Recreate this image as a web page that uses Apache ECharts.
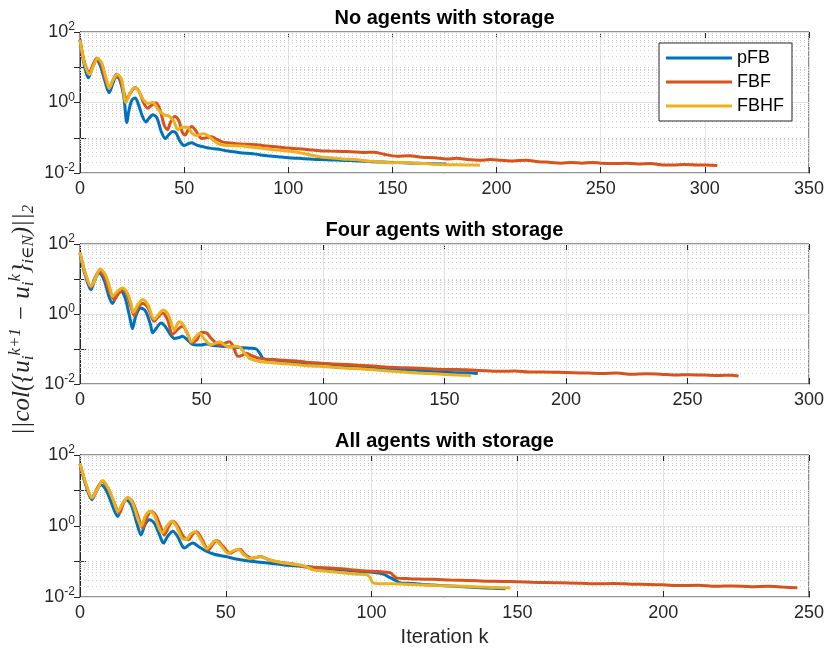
<!DOCTYPE html>
<html>
<head>
<meta charset="utf-8">
<script src="https://cdn.jsdelivr.net/npm/echarts@6/dist/echarts.min.js"></script>
<style>
  html, body { margin: 0; padding: 0; background: #fff; }
  #main { width: 827px; height: 657px; }
</style>
</head>
<body>
<div id="main"></div>
<script>
// 三个子图的标题和 x 轴上限
var titles = ['No agents with storage', 'Four agents with storage', 'All agents with storage'];
var xMax = [350, 300, 250];
var names = ['pFB', 'FBF', 'FBHF'];

// 数据: [迭代次数 k, 残差]
// --- No agents with storage
var noPFB = [[0,60],[2,12],[4,5],[6,10],[8,16],[10,10],[12,4],[14,1.9],[16,3.8],[17.5,5.5],[19,4.5],[21,1.5],[22.5,0.27],[23.5,0.6],[25,1.2],[26.5,1.35],[28,0.9],[30,0.4],[31.7,0.28],[33,0.35],[35,0.45],[37,0.36],[39,0.15],[41,0.095],[42.5,0.12],[44.5,0.15],[46,0.14],[48,0.08],[50,0.06],[52,0.068],[53.5,0.072],[56,0.062],[60,0.054],[63,0.05],[66,0.048],[70,0.043],[74,0.04],[78,0.037],[82,0.036],[86,0.033],[90,0.031],[95,0.029],[100,0.027],[105,0.026],[110,0.025],[115,0.024],[120,0.0235],[125,0.023],[130,0.0225],[135,0.022],[140,0.021],[145,0.0205],[150,0.02],[155,0.0195],[160,0.019],[165,0.0187],[170,0.0182],[176,0.018]];
var noFBF = [[0,60],[2,15],[4.5,7],[6,11],[8,18],[10,13],[12,5],[14,2.6],[16,4.5],[17.5,6.2],[19,5],[21,2],[22.3,1.2],[24,1.8],[26.5,2.6],[28.5,2],[30.5,1],[32.5,0.69],[34.5,0.85],[36.5,0.98],[38.5,0.6],[40.5,0.22],[42,0.17],[43.5,0.28],[45.5,0.4],[47.5,0.3],[49,0.15],[50.5,0.12],[52,0.17],[53.7,0.21],[55.5,0.16],[58.5,0.095],[61,0.1],[63,0.107],[65,0.095],[68,0.078],[70.5,0.072],[75,0.068],[80,0.065],[86,0.062],[90,0.058],[95,0.055],[100,0.051],[105,0.049],[110,0.046],[115,0.043],[120,0.042],[126,0.041],[130,0.04],[136,0.038],[141,0.039],[146,0.034],[152,0.03],[158,0.031],[164,0.028],[170,0.027],[176,0.025],[181,0.026],[186,0.024],[192,0.023],[197,0.024],[202,0.023],[208,0.022],[214,0.023],[220,0.021],[226,0.02],[231,0.019],[236,0.02],[241,0.019],[246,0.02],[250,0.019],[256,0.0185],[262,0.019],[268,0.018],[274,0.0185],[280,0.017],[285,0.017],[290,0.0175],[296,0.017],[301,0.0168],[306,0.0162]];
var noFBHF = [[0,60],[2,14],[4.5,6.2],[6.5,11],[8.5,18],[10.5,13],[12.5,5],[14,2.5],[16,4.5],[18,6.2],[20,4.5],[22,1.0],[24,1.8],[26,2.6],[28,2.2],[30,1.3],[32.5,0.95],[35,1.0],[37,0.7],[38.5,0.55],[40.5,0.45],[43,0.4],[45,0.3],[47,0.17],[49,0.2],[51.5,0.2],[54,0.13],[56,0.115],[59,0.13],[61,0.12],[64,0.085],[67,0.065],[72,0.06],[78.5,0.058],[85,0.052],[90,0.048],[96,0.044],[102.6,0.04],[108,0.035],[115,0.029],[120,0.027],[126,0.025],[132,0.024],[138,0.022],[143,0.021],[149,0.0195],[155,0.02],[160,0.019],[166,0.0185],[172,0.0175],[178,0.0172],[185,0.017],[192,0.0165]];

// --- Four agents with storage
var fourPFB = [[0,55],[2,14],[4.5,4.9],[6,9],[7.9,14.8],[10,9],[12,3],[13.4,2.0],[15,3.5],[16.8,4.5],[18.5,3],[20.5,0.8],[21.6,0.38],[23,0.9],[25,1.48],[27,1.2],[29,0.5],[29.9,0.29],[31.5,0.4],[33.3,0.55],[35,0.45],[37,0.27],[38.8,0.2],[40.5,0.21],[42.2,0.23],[44,0.19],[46,0.14],[48,0.13],[50,0.13],[52,0.138],[55,0.125],[58,0.12],[62,0.115],[66,0.11],[70,0.105],[72.5,0.1],[74,0.075],[75.3,0.054],[77,0.05],[79.5,0.049],[84,0.045],[90,0.041],[95,0.039],[98.6,0.039],[104,0.036],[110,0.033],[116,0.031],[122,0.029],[128,0.027],[131.5,0.025],[137,0.025],[143,0.023],[149,0.022],[155,0.021],[160,0.021],[163.7,0.02]];
var fourFBF = [[0,55],[2,16],[4.5,5.8],[6,10],[7.9,16.6],[10,12],[12,4.5],[14.1,2.6],[16,4],[17.5,4.9],[19,4],[21,1.6],[22.3,0.9],[24,1.6],[25.8,2.0],[28,1.5],[30.5,0.62],[32,0.8],[34,1.07],[36,0.7],[38.1,0.26],[40,0.35],[42.2,0.45],[44,0.3],[46,0.15],[48,0.18],[50,0.3],[52,0.29],[54,0.2],[57.5,0.13],[60,0.15],[61.5,0.16],[63,0.12],[65,0.062],[66.5,0.065],[68.5,0.076],[70.5,0.065],[74,0.054],[80,0.049],[87.7,0.046],[93,0.042],[98.6,0.039],[104,0.037],[110,0.036],[116,0.034],[122,0.032],[128,0.03],[134,0.029],[140,0.028],[149.3,0.026],[155,0.026],[161,0.025],[167,0.024],[173,0.023],[179,0.0235],[185,0.022],[191,0.022],[197,0.0215],[203,0.021],[209,0.0205],[215,0.02],[221,0.0205],[227,0.019],[233,0.0195],[239,0.019],[245,0.018],[251,0.0185],[257,0.018],[263,0.0175],[268,0.0178],[271,0.017]];
var fourFBHF = [[0,58],[2,16],[4.5,6.2],[6.5,11],[8.3,19.5],[10.5,13],[12.5,5],[13.4,3.2],[15.5,4.5],[17.5,5.5],[19.5,4],[21,2],[22,1.12],[24,1.9],[25.8,2.6],[28,1.8],[30.5,0.71],[32.5,1.0],[34.3,1.3],[36.5,0.9],[38.8,0.35],[40.8,0.6],[42.5,0.5],[44,0.3],[45.9,0.16],[47.5,0.22],[49.3,0.28],[51,0.2],[54,0.13],[56,0.15],[57.5,0.16],[59.5,0.13],[61.6,0.112],[63.5,0.12],[65.8,0.112],[67.5,0.08],[69.9,0.054],[74,0.044],[80,0.04],[86,0.037],[92,0.034],[98.6,0.032],[104,0.03],[110,0.028],[116,0.027],[122,0.025],[131.5,0.0224],[137,0.021],[143,0.02],[149,0.019],[155,0.018],[161,0.0174]];

// --- All agents with storage
var allPFB = [[0,55],[2,14],[4.1,5.5],[5.5,9],[7.2,14.5],[9,10],[11,4],[12.9,1.86],[14.5,4],[15.8,5.5],[17.5,4],[19.5,1.2],[20.9,0.56],[22.3,1.1],[23.8,1.5],[25.5,1.2],[27.5,0.5],[28.6,0.33],[30,0.5],[31.8,0.71],[33.5,0.5],[35,0.28],[35.8,0.24],[37.5,0.3],[38.7,0.33],[40.5,0.27],[43.3,0.195],[46,0.16],[50,0.138],[53,0.12],[57.2,0.105],[62,0.095],[66,0.088],[70,0.08],[75.5,0.074],[80,0.069],[85,0.062],[90,0.058],[95,0.053],[101.8,0.048],[104,0.044],[105.8,0.037],[108,0.03],[109.9,0.025],[114,0.024],[120,0.022],[127,0.0204],[133,0.019],[139,0.018],[145.9,0.017]];
var allFBF = [[0,55],[2,15],[4.1,6.2],[5.8,11],[7.6,18.2],[9.5,12],[11.5,5],[13.5,2.3],[15,4.5],[16.4,6.2],[18,4.8],[20,1.8],[21.5,0.87],[23,1.8],[24.4,2.6],[26,2],[28,0.8],[28.9,0.56],[30.5,1.0],[31.8,1.35],[33.5,1.0],[35.5,0.5],[37.2,0.41],[38.7,0.6],[40,0.69],[42,0.4],[44,0.21],[45.5,0.3],[46.9,0.39],[49,0.27],[51.5,0.17],[53,0.2],[54.9,0.22],[56.5,0.16],[58.9,0.123],[60.5,0.13],[61.8,0.138],[65,0.11],[69,0.094],[73.2,0.085],[77.8,0.069],[82,0.067],[87,0.065],[92,0.06],[97,0.055],[102,0.052],[106.4,0.048],[107.5,0.04],[108.7,0.034],[112,0.033],[116,0.032],[121.3,0.0316],[127,0.03],[133,0.029],[139,0.028],[145,0.0275],[150,0.027],[155,0.026],[160,0.0255],[165,0.025],[171.6,0.0245],[177,0.0235],[183,0.024],[189,0.023],[195,0.0225],[200,0.022],[206,0.021],[212,0.0215],[218,0.02],[224,0.0205],[230,0.0195],[236,0.02],[241,0.019],[246,0.0182]];
var allFBHF = [[0,58],[2,16],[4.1,6.2],[6,11],[7.8,19],[9.5,12.5],[11.5,5.2],[13,2.6],[14.8,4.5],[16.4,6.2],[18,4.5],[19.8,1.6],[21,1.0],[22.5,2],[24,2.6],[25.5,2],[27.3,0.8],[28.3,0.65],[29.8,1.0],[31.4,1.35],[33,1.0],[35,0.45],[36.6,0.42],[38,0.6],[39.5,0.69],[41.5,0.4],[43.5,0.23],[45,0.3],[46.5,0.39],[48.5,0.27],[50.8,0.17],[52.5,0.2],[54.3,0.22],[56,0.16],[58.3,0.12],[60,0.13],[62,0.135],[65,0.11],[69,0.094],[73.2,0.084],[77,0.075],[80,0.058],[84,0.054],[90,0.048],[95,0.044],[98.4,0.042],[99.5,0.035],[100.5,0.025],[104,0.0235],[110,0.0234],[116,0.022],[122,0.021],[128,0.0205],[132.7,0.02],[138,0.019],[143,0.0185],[147.6,0.018]];

var allData = [[noPFB, noFBF, noFBHF], [fourPFB, fourFBF, fourFBHF], [allPFB, allFBF, allFBHF]];
var colors = ['#0072BD', '#D95319', '#EDB120'];

// 对数轴的网格线
var majorY = [0.01, 1, 100];
var minorY = [];
[0.01, 0.1, 1, 10].forEach(function (d) {
  for (var m = 2; m <= 10; m++) {
    if (d * m !== 1 && d * m !== 100) minorY.push(+(d * m).toPrecision(3));
  }
});

var gridTops = [32, 244, 455];
var gridHeights = [141, 140, 142];
var axisColor = '#262626';
var font = 'Helvetica, Arial, "Liberation Sans", sans-serif';
var mathFont = '"Liberation Serif", "DejaVu Serif", serif';

var grids = [], xAxes = [], yAxes = [], series = [], graphics = [];

for (var g = 0; g < 3; g++) {
  grids.push({
    left: 80, right: 18, top: gridTops[g], height: gridHeights[g],
    show: true, borderColor: axisColor, borderWidth: 1, backgroundColor: '#fff'
  });
  // 下方 x 轴
  xAxes.push({
    type: 'value', gridIndex: g, min: 0, max: xMax[g], interval: 50,
    axisLine: { lineStyle: { color: axisColor } },
    axisTick: { inside: true, length: 6, lineStyle: { color: axisColor } },
    axisLabel: { color: axisColor, fontSize: 18, fontFamily: font, margin: 7 },
    splitLine: { show: true, lineStyle: { color: '#e3e3e3', width: 1 } }
  });
  // 上方 x 轴 (只有刻度)
  xAxes.push({
    type: 'value', gridIndex: g, min: 0, max: xMax[g], interval: 50, position: 'top',
    axisLine: { lineStyle: { color: axisColor } },
    axisTick: { inside: true, length: 6, lineStyle: { color: axisColor } },
    axisLabel: { show: false }, splitLine: { show: false }
  });
  yAxes.push({
    type: 'log', logBase: 10, gridIndex: g, min: 0.01, max: 100,
    axisLine: { lineStyle: { color: axisColor } },
    axisTick: { inside: true, length: 6, lineStyle: { color: axisColor } },
    axisLabel: {
      color: axisColor, fontFamily: font, margin: 5,
      formatter: function (v) {
        var e = Math.round(Math.log10(v));
        if (e % 2 !== 0) return '';
        return '{b|10}{e|' + e + '}';
      },
      rich: {
        b: { fontSize: 18, fontFamily: font, color: axisColor, lineHeight: 22 },
        e: { fontSize: 12, fontFamily: font, color: axisColor, lineHeight: 12, verticalAlign: 'top' }
      }
    },
    splitLine: { show: false }
  });
  yAxes.push({
    type: 'log', logBase: 10, gridIndex: g, min: 0.01, max: 100, position: 'right',
    axisLine: { lineStyle: { color: axisColor } },
    axisTick: { inside: true, length: 6, lineStyle: { color: axisColor } },
    axisLabel: { show: false }, splitLine: { show: false }
  });

  // 网格线 (次网格虚线, 主网格实线)
  series.push({
    type: 'line', name: 'grid' + g, data: [], xAxisIndex: 2 * g, yAxisIndex: 2 * g,
    silent: true,
    markLine: {
      silent: true, symbol: 'none', z: 1, animation: false,
      label: { show: false },
      data: minorY.map(function (v) {
        return { yAxis: v, lineStyle: { color: '#cfcfcf', type: [1, 3], width: 1 } };
      }).concat(majorY.map(function (v) {
        return { yAxis: v, lineStyle: { color: '#e3e3e3', type: 'solid', width: 1 } };
      }))
    }
  });

  for (var s = 0; s < 3; s++) {
    series.push({
      type: 'line', name: names[s], data: allData[g][s],
      xAxisIndex: 2 * g, yAxisIndex: 2 * g,
      showSymbol: false, smooth: 0.3, z: 3 + s,
      lineStyle: { color: colors[s], width: 3 },
      itemStyle: { color: colors[s] }
    });
  }

  graphics.push({
    type: 'text', x: 444.5, y: gridTops[g] - 14,
    style: {
      text: titles[g], textAlign: 'center', textVerticalAlign: 'middle',
      font: 'bold 20px ' + font, fill: '#000'
    }
  });
}

graphics.push({
  type: 'text', x: 444.5, y: 637,
  style: { text: 'Iteration k', textAlign: 'center', textVerticalAlign: 'middle', font: '20px ' + font, fill: axisColor }
});

// y 轴名称 (竖排)
graphics.push({
  type: 'text', x: 22, y: 320, rotation: Math.PI / 2,
  style: {
    text: '||col({u{s|i}{p|k+1} − u{s|i}{p|k}}{s|i∈N})||{s|2}',
    textAlign: 'center', textVerticalAlign: 'middle',
    fontSize: 25, fontStyle: 'italic', fontFamily: mathFont,
    fill: axisColor, lineHeight: 30,
    rich: {
      s: { fontSize: 17, fontStyle: 'italic', fontFamily: mathFont, lineHeight: 17, verticalAlign: 'bottom', fill: axisColor },
      p: { fontSize: 17, fontStyle: 'italic', fontFamily: mathFont, lineHeight: 17, verticalAlign: 'top', fill: axisColor }
    }
  }
});

var chart = echarts.init(document.getElementById('main'));
chart.setOption({
  animation: false,
  backgroundColor: '#fff',
  grid: grids,
  xAxis: xAxes,
  yAxis: yAxes,
  legend: {
    data: names, orient: 'vertical', left: 659, top: 43,
    icon: 'rect', itemWidth: 66, itemHeight: 3, itemGap: 6,
    padding: [6, 8, 6, 7],
    backgroundColor: '#fff', borderColor: axisColor, borderWidth: 1,
    textStyle: { fontSize: 18, fontFamily: font, color: '#000' }
  },
  graphic: graphics,
  series: series
});
</script>
</body>
</html>
